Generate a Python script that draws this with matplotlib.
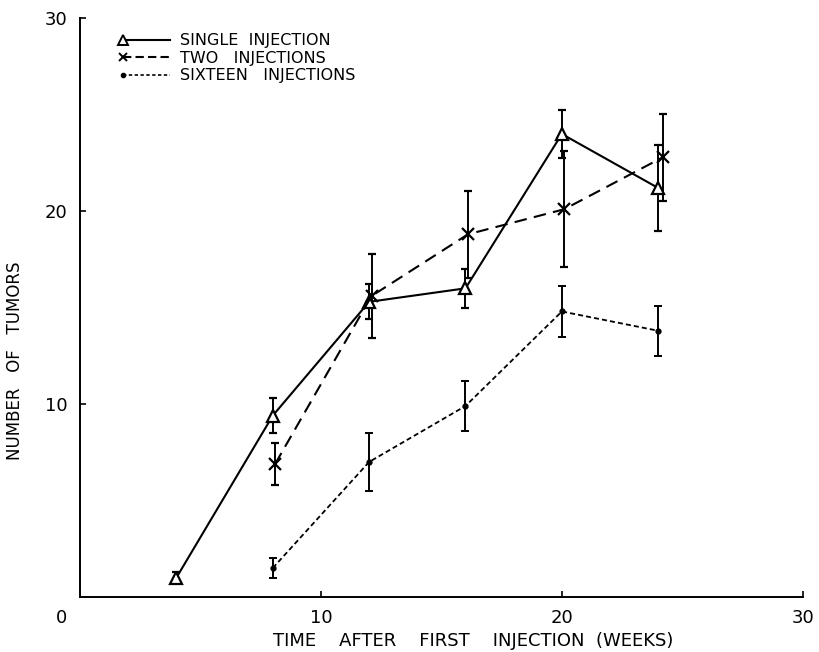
import matplotlib
matplotlib.use("Agg")
import matplotlib.pyplot as plt
import numpy as np
from matplotlib.lines import Line2D
from matplotlib.legend_handler import HandlerLine2D

plt.rcParams['font.family'] = ['DejaVu Sans']

# Data
single_x = [4, 8, 12, 16, 20, 24]
single_y = [1.0, 9.4, 15.3, 16.0, 24.0, 21.2]
single_err = [0.3, 0.9, 0.9, 1.0, 1.25, 2.25]

two_x = [8.1, 12.1, 16.1, 20.1, 24.2]
two_y = [6.9, 15.6, 18.8, 20.1, 22.8]
two_err = [1.1, 2.2, 2.25, 3.0, 2.25]

sixteen_x = [8, 12, 16, 20, 24]
sixteen_y = [1.5, 7.0, 9.9, 14.8, 13.8]
sixteen_err = [0.5, 1.5, 1.3, 1.3, 1.3]

labels = ["SINGLE  INJECTION", "TWO   INJECTIONS", "SIXTEEN   INJECTIONS"]
ticks = [10, 20, 30]

fig = plt.figure(figsize=(8.2, 6.52), dpi=100)
ax = fig.add_axes([0.0976, 0.0844, 0.8814, 0.8876])

ek = dict(ecolor='black', elinewidth=1.4, capsize=3, capthick=1.4)
ax.errorbar(single_x, single_y, yerr=single_err, color='black', lw=1.5, ls='-',
            marker='^', ms=9, mfc='white', mec='black', mew=1.6, **ek)
ax.errorbar(two_x, two_y, yerr=two_err, color='black', lw=1.5, ls=(0, (6, 3.5)),
            marker='x', ms=8, mew=1.6, **ek)
ax.errorbar(sixteen_x, sixteen_y, yerr=sixteen_err, color='black', lw=1.3, ls=(0, (2.8, 1.7)),
            marker='o', ms=3.5, **ek)

ax.set_xlim(0, 30)
ax.set_ylim(0, 30)
ax.spines['top'].set_visible(False)
ax.spines['right'].set_visible(False)
for s in ['left', 'bottom']:
    ax.spines[s].set_linewidth(1.4)
ax.set_xticks(ticks)
ax.set_yticks(ticks)
ax.tick_params(direction='in', length=4, width=1.2, labelsize=13, pad=9)
ax.annotate("0", xy=(0, 0), xycoords='data', xytext=(-13, -15), textcoords='offset points',
            ha='center', va='center', fontsize=13)

ax.set_xlabel("TIME    AFTER    FIRST    INJECTION  (WEEKS)", fontsize=13)
ax.xaxis.set_label_coords(0.544, -0.061)
ax.set_ylabel("NUMBER   OF   TUMORS", fontsize=12)
ax.yaxis.set_label_coords(-0.077, 0.408)


class LeftMarkerHandler(HandlerLine2D):
    def create_artists(self, legend, orig_handle, xdescent, ydescent, width, height,
                       fontsize, trans):
        y = (height - ydescent) / 2
        line = Line2D([-xdescent, -xdescent + width], [y, y])
        self.update_prop(line, orig_handle, legend)
        line.set_marker('None')
        mk = Line2D([-xdescent], [y])
        self.update_prop(mk, orig_handle, legend)
        mk.set_linestyle('None')
        line.set_transform(trans)
        mk.set_transform(trans)
        return [line, mk]


handles = [
    Line2D([], [], color='black', lw=1.5, ls='-', marker='^', ms=7, mfc='white', mew=1.4),
    Line2D([], [], color='black', lw=1.5, ls=(0, (4, 2)), marker='x', ms=6, mew=1.4),
    Line2D([], [], color='black', lw=1.2, ls=(0, (2, 1.5)), marker='o', ms=3),
]
leg = ax.legend(handles, labels, loc='upper left', bbox_to_anchor=(0.05, 0.985), frameon=False,
                fontsize=11.5, handlelength=3.0, handletextpad=0.6, labelspacing=0.15,
                borderaxespad=0,
                handler_map={h: LeftMarkerHandler() for h in handles})

fig.savefig("out.png", dpi=100)
